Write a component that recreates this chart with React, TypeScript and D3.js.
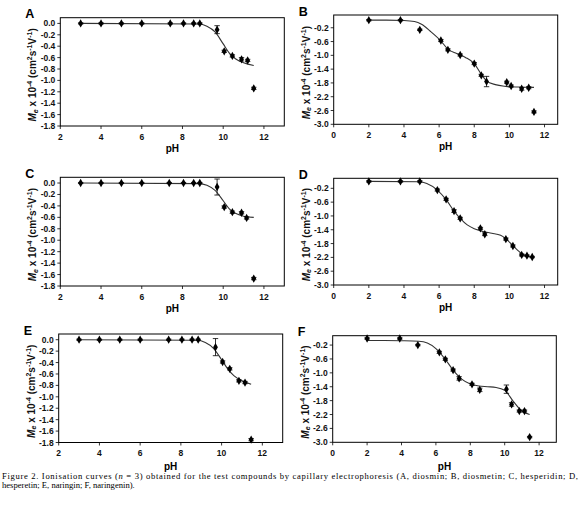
import * as d3 from 'd3';

// ---- data ----
const phA = [3.0, 4.0, 5.0, 6.0, 7.4, 8.05, 8.55, 8.85, 9.7, 10.05, 10.45, 10.9, 11.2, 11.5];
const meA = [0, 0, 0, 0, 0, 0, 0, 0, -0.11, -0.49, -0.57, -0.63, -0.65, -1.14];
const errA = [0.01, 0.01, 0.01, 0.01, 0.01, 0.01, 0.01, 0.01, 0.07, 0.02, 0.02, 0.03, 0.02, 0.02];
const fitPhA = [3.0, 8.8, 9.2, 9.6, 10.0, 10.3, 10.6, 11.0, 11.5];
const fitMeA = [0, -0.01, -0.05, -0.15, -0.36, -0.52, -0.62, -0.69, -0.74];

const phB = [2.0, 3.8, 4.9, 6.1, 6.5, 7.2, 8.0, 8.4, 8.7, 9.85, 10.1, 10.7, 11.1, 11.4];
const meB = [0.02, 0.02, -0.26, -0.57, -0.84, -0.99, -1.24, -1.58, -1.76, -1.78, -1.89, -1.97, -1.94, -2.64];
const errB = [0.02, 0.02, 0.02, 0.03, 0.03, 0.03, 0.03, 0.03, 0.15, 0.03, 0.03, 0.04, 0.03, 0.03];
const fitPhB = [2.0, 3.0, 4.0, 4.6, 5.0, 5.5, 6.08, 6.5, 7.0, 7.5, 8.0, 8.4, 8.7, 9.2, 9.8, 10.5, 11.4];
const fitMeB = [0.02, 0.02, 0.01, -0.02, -0.1, -0.3, -0.57, -0.82, -0.95, -1.06, -1.24, -1.55, -1.74, -1.85, -1.9, -1.92, -1.93];

const phC = [3.0, 4.0, 5.0, 6.0, 7.35, 8.05, 8.55, 8.85, 9.7, 10.05, 10.45, 10.9, 11.15, 11.5];
const meC = [0, 0, 0, 0, 0, 0, 0, 0, -0.07, -0.42, -0.51, -0.52, -0.61, -1.67];
const errC = [0.01, 0.01, 0.01, 0.01, 0.01, 0.01, 0.01, 0.01, 0.14, 0.02, 0.02, 0.02, 0.02, 0.02];
const fitPhC = [3.0, 8.8, 9.2, 9.6, 10.0, 10.3, 10.6, 11.0, 11.5];
const fitMeC = [0, -0.01, -0.04, -0.13, -0.31, -0.45, -0.53, -0.58, -0.6];

const phD = [2.0, 3.8, 4.9, 5.9, 6.4, 6.85, 7.2, 8.35, 8.6, 9.8, 10.2, 10.7, 11.0, 11.3];
const meD = [0.0, 0.0, 0.0, -0.25, -0.52, -0.86, -1.07, -1.36, -1.53, -1.67, -1.87, -2.13, -2.15, -2.19];
const errD = [0.02, 0.02, 0.02, 0.03, 0.03, 0.04, 0.03, 0.03, 0.04, 0.03, 0.03, 0.03, 0.02, 0.02];
const fitPhD = [2.0, 4.9, 5.3, 5.9, 6.4, 6.85, 7.2, 7.6, 8.0, 8.5, 9.0, 9.5, 9.8, 10.2, 10.7, 11.0, 11.3];
const fitMeD = [0.0, -0.01, -0.06, -0.25, -0.53, -0.86, -1.07, -1.26, -1.37, -1.45, -1.5, -1.56, -1.66, -1.86, -2.09, -2.17, -2.2];

const phE = [3.0, 4.0, 5.0, 6.0, 7.4, 8.05, 8.55, 8.85, 9.7, 10.05, 10.4, 10.85, 11.15, 11.45];
const meE = [0, 0, 0, 0, 0, 0, 0, 0, -0.13, -0.39, -0.51, -0.72, -0.75, -1.75];
const errE = [0.01, 0.01, 0.01, 0.01, 0.01, 0.01, 0.01, 0.01, 0.15, 0.02, 0.02, 0.02, 0.02, 0.02];
const fitPhE = [3.0, 8.8, 9.2, 9.6, 10.0, 10.3, 10.6, 11.0, 11.45];
const fitMeE = [0, -0.01, -0.05, -0.15, -0.35, -0.51, -0.63, -0.72, -0.78];

const phF = [2.0, 3.9, 4.95, 6.2, 6.55, 7.0, 7.35, 8.1, 8.55, 10.1, 10.4, 10.85, 11.15, 11.45];
const meF = [-0.01, -0.01, -0.2, -0.41, -0.61, -0.92, -1.16, -1.33, -1.49, -1.47, -1.91, -2.1, -2.1, -2.85];
const errF = [0.02, 0.02, 0.02, 0.03, 0.03, 0.03, 0.05, 0.03, 0.05, 0.12, 0.05, 0.03, 0.03, 0.02];
const fitPhF = [2.0, 3.0, 4.0, 5.0, 5.5, 6.0, 6.5, 7.0, 7.5, 8.0, 8.5, 9.0, 9.5, 10.0, 10.5, 11.0, 11.45];
const fitMeF = [-0.07, -0.07, -0.075, -0.09, -0.14, -0.3, -0.58, -0.92, -1.18, -1.32, -1.38, -1.4, -1.42, -1.5, -1.82, -2.1, -2.2];

// tick labels
const xTicksGlyco = [2, 4, 6, 8, 10, 12];
const xTicksAglyc = [0, 2, 4, 6, 8, 10, 12];
const yTicksGlyco = [0.0, -0.2, -0.4, -0.6, -0.8, -1.0, -1.2, -1.4, -1.6, -1.8];
const yTicksAglyc = [-0.2, -0.6, -1.0, -1.4, -1.8, -2.2, -2.6, -3.0];

const captionLine2 = 'hesperetin; E, naringin; F, naringenin).';

const SANS = '"Liberation Sans", Arial, Helvetica, sans-serif';
const SERIF = '"Liberation Serif", "Times New Roman", serif';

interface PanelDef {
  label: string;
  ph: number[];
  me: number[];
  err: number[];
  fitPh: number[];
  fitMe: number[];
  left: number;
  right: number;
  top: number;
  bottom: number;
  xDomain: [number, number];
  yDomain: [number, number];
  xTicks: number[];
  yTicks: number[];
  titleGap: number;
}

const panels: PanelDef[] = [
  { label: 'A', ph: phA, me: meA, err: errA, fitPh: fitPhA, fitMe: fitMeA,
    left: 60.3, right: 284.3, top: 17.7, bottom: 126, xDomain: [2, 13], yDomain: [-1.8, 0.1],
    xTicks: xTicksGlyco, yTicks: yTicksGlyco, titleGap: 25.5 },
  { label: 'B', ph: phB, me: meB, err: errB, fitPh: fitPhB, fitMe: fitMeB,
    left: 333.7, right: 557.7, top: 15, bottom: 124.3, xDomain: [0, 12.75], yDomain: [-3.0, 0.17],
    xTicks: xTicksAglyc, yTicks: yTicksAglyc, titleGap: 26 },
  { label: 'C', ph: phC, me: meC, err: errC, fitPh: fitPhC, fitMe: fitMeC,
    left: 60.3, right: 284.3, top: 177.3, bottom: 286, xDomain: [2, 13], yDomain: [-1.8, 0.1],
    xTicks: xTicksGlyco, yTicks: yTicksGlyco, titleGap: 25.5 },
  { label: 'D', ph: phD, me: meD, err: errD, fitPh: fitPhD, fitMe: fitMeD,
    left: 333.7, right: 557.7, top: 178.3, bottom: 285, xDomain: [0, 12.75], yDomain: [-3.0, 0.09],
    xTicks: xTicksAglyc, yTicks: yTicksAglyc, titleGap: 26 },
  { label: 'E', ph: phE, me: meE, err: errE, fitPh: fitPhE, fitMe: fitMeE,
    left: 58.7, right: 282.7, top: 334, bottom: 442.5, xDomain: [2, 13], yDomain: [-1.8, 0.1],
    xTicks: xTicksGlyco, yTicks: yTicksGlyco, titleGap: 27.5 },
  { label: 'F', ph: phF, me: meF, err: errF, fitPh: fitPhF, fitMe: fitMeF,
    left: 332.7, right: 556.3, top: 335.7, bottom: 442.3, xDomain: [0, 13], yDomain: [-3.0, 0.07],
    xTicks: xTicksAglyc, yTicks: yTicksAglyc, titleGap: 27.5 },
];

const fmt = (v: number) => (Math.abs(v) < 1e-9 ? '0.0' : v.toFixed(1));
const diamond = d3.symbol().type(d3.symbolDiamond).size(20)() as string;

function Panel({ p }: { p: PanelDef }) {
  const x = d3.scaleLinear().domain(p.xDomain).range([p.left, p.right]);
  const y = d3.scaleLinear().domain(p.yDomain).range([p.bottom, p.top]);

  const fit = d3.line<number>()
    .x((_, i) => x(p.fitPh[i]))
    .y(d => y(d))
    .curve(d3.curveMonotoneX);

  const midY = (p.top + p.bottom) / 2 + 3;
  const titleX = p.left - 24;

  return (
    <g>
      <text x={p.left - 35} y={p.top + 0.5} fontFamily={SANS} fontSize={12.5} fontWeight="bold">
        {p.label}
      </text>

      <rect x={p.left} y={p.top} width={p.right - p.left} height={p.bottom - p.top}
        fill="none" stroke="#000" strokeWidth={1} />

      {p.xTicks.map(t => (
        <g key={`x${t}`}>
          <line x1={x(t)} x2={x(t)} y1={p.bottom} y2={p.bottom + 3} stroke="#000" strokeWidth={0.8} />
          <text x={x(t)} y={p.bottom + 13.5} textAnchor="middle" fontFamily={SANS}
            fontSize={8.5} fontWeight="bold" fill="#111">{t}</text>
        </g>
      ))}
      {p.yTicks.map(t => (
        <g key={`y${t}`}>
          <line x1={p.left - 3} x2={p.left} y1={y(t)} y2={y(t)} stroke="#000" strokeWidth={0.8} />
          <text x={p.left - 5} y={y(t) + 3} textAnchor="end" fontFamily={SANS}
            fontSize={8.5} fontWeight="bold" fill="#111">{fmt(t)}</text>
        </g>
      ))}

      <text x={(p.left + p.right) / 2} y={p.bottom + p.titleGap} textAnchor="middle"
        fontFamily={SANS} fontSize={10} fontWeight="bold">pH</text>

      <text transform={`translate(${titleX},${midY}) rotate(-90)`} textAnchor="middle"
        fontFamily={SANS} fontSize={10} fontWeight="bold" fill="#111">
        <tspan fontStyle="italic">M</tspan>
        <tspan fontStyle="italic" fontSize={7} dy={1.5}>e</tspan>
        <tspan dy={-1.5}> x 10</tspan>
        <tspan fontSize={7} dy={-4}>-4</tspan>
        <tspan dy={4}> (cm</tspan>
        <tspan fontSize={7} dy={-4}>2</tspan>
        <tspan dy={4}>s</tspan>
        <tspan fontSize={7} dy={-4}>-1</tspan>
        <tspan dy={4}>V</tspan>
        <tspan fontSize={7} dy={-4}>-1</tspan>
        <tspan dy={4}>)</tspan>
      </text>

      <path d={fit(p.fitMe) ?? ''} fill="none" stroke="#333" strokeWidth={1.1} />

      {p.ph.map((ph, i) => {
        const cx = x(ph);
        const yTop = y(p.me[i] + p.err[i]);
        const yBot = y(p.me[i] - p.err[i]);
        return (
          <g key={`pt${i}`}>
            <line x1={cx} x2={cx} y1={yTop} y2={yBot} stroke="#000" strokeWidth={0.8} />
            <line x1={cx - 2.7} x2={cx + 2.7} y1={yTop} y2={yTop} stroke="#000" strokeWidth={0.8} />
            <line x1={cx - 2.7} x2={cx + 2.7} y1={yBot} y2={yBot} stroke="#000" strokeWidth={0.8} />
            <path d={diamond} transform={`translate(${cx},${y(p.me[i])})`} fill="#000" />
          </g>
        );
      })}
    </g>
  );
}

export default function App() {
  return (
    <svg width={584} height={507} viewBox="0 0 584 507"
      style={{ position: 'absolute', left: 0, top: 0, background: '#fff' }}>
      <rect width={584} height={507} fill="#fff" />
      {panels.map(p => <Panel key={p.label} p={p} />)}
      <text x={2} y={478.5} fontFamily={SERIF} fontSize={8.6} textLength={576} lengthAdjust="spacing">
        Figure 2. Ionisation curves (<tspan fontStyle="italic">n</tspan> = 3) obtained for the test compounds by capillary electrophoresis (A, diosmin; B, diosmetin; C, hesperidin; D,
      </text>
      <text x={2} y={487.5} fontFamily={SERIF} fontSize={8.6}>{captionLine2}</text>
    </svg>
  );
}
